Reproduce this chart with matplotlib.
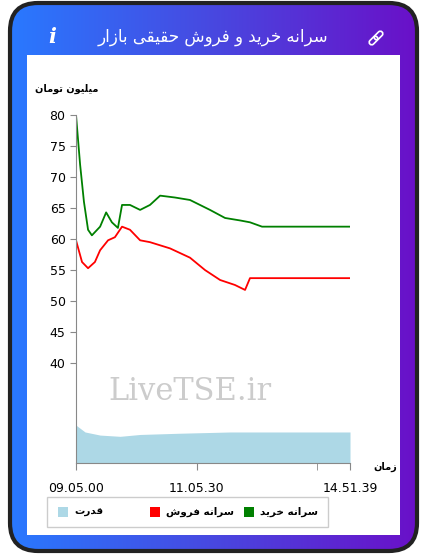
import matplotlib
matplotlib.use("Agg")
import matplotlib.pyplot as plt
import numpy as np
from matplotlib.patches import FancyBboxPatch, Rectangle
from matplotlib.colors import LinearSegmentedColormap
import matplotlib.transforms as mtransforms

# داده‌ها (موقعیت نمونه روی محور زمان 0..100)
buy_x = [0, 1.5, 2.9, 4.4, 5.8, 8.8, 11, 13.1, 15.3, 16.8, 19.7, 23.4, 27, 30.7, 36.1, 41.6, 48.9, 54.4, 59.9, 63.5, 67.9, 100]
buy_y = [80, 72, 66, 61.5, 60.6, 62, 64.3, 62.7, 61.8, 65.5, 65.5, 64.7, 65.5, 67, 66.7, 66.3, 64.7, 63.4, 63, 62.7, 62, 62]
sell_x = [0, 2.2, 4.4, 6.9, 8.8, 11.7, 14.2, 16.8, 19.7, 23.4, 27, 34.3, 41.6, 47.1, 52.6, 58, 61.7, 63.5, 67.9, 100]
sell_y = [59.8, 56.3, 55.3, 56.3, 58.2, 59.8, 60.3, 62, 61.5, 59.8, 59.5, 58.5, 57, 55, 53.4, 52.6, 51.8, 53.7, 53.7, 53.7]
power_x = [0, 3.3, 8.8, 16.1, 23.4, 38, 56.2, 100]
power_y = [30, 28.9, 28.4, 28.2, 28.5, 28.7, 28.9, 28.9]
tick_pos = [0, 44, 100]
tick_labels = ['09.05.00', '11.05.30', '14.51.39']

FORMS = {
    'ا': (0xFE8D, 0xFE8E, None, None), 'ب': (0xFE8F, 0xFE90, 0xFE91, 0xFE92),
    'ت': (0xFE95, 0xFE96, 0xFE97, 0xFE98), 'ح': (0xFEA1, 0xFEA2, 0xFEA3, 0xFEA4),
    'خ': (0xFEA5, 0xFEA6, 0xFEA7, 0xFEA8), 'د': (0xFEA9, 0xFEAA, None, None),
    'ر': (0xFEAD, 0xFEAE, None, None), 'ز': (0xFEAF, 0xFEB0, None, None),
    'س': (0xFEB1, 0xFEB2, 0xFEB3, 0xFEB4), 'ش': (0xFEB5, 0xFEB6, 0xFEB7, 0xFEB8),
    'ف': (0xFED1, 0xFED2, 0xFED3, 0xFED4), 'ق': (0xFED5, 0xFED6, 0xFED7, 0xFED8),
    'ل': (0xFEDD, 0xFEDE, 0xFEDF, 0xFEE0), 'م': (0xFEE1, 0xFEE2, 0xFEE3, 0xFEE4),
    'ن': (0xFEE5, 0xFEE6, 0xFEE7, 0xFEE8), 'ه': (0xFEE9, 0xFEEA, 0xFEEB, 0xFEEC),
    'و': (0xFEED, 0xFEEE, None, None), 'ی': (0xFEEF, 0xFEF0, 0xFEF3, 0xFEF4),
}


def fa(s):
    """شکل‌دهی ساده حروف فارسی و معکوس کردن برای نمایش راست به چپ."""
    out = []
    for i, c in enumerate(s):
        if c not in FORMS:
            out.append(c)
            continue
        prev = s[i - 1] if i > 0 else ' '
        nxt = s[i + 1] if i + 1 < len(s) else ' '
        jp = prev in FORMS and FORMS[prev][2] is not None
        jn = nxt in FORMS and FORMS[c][2] is not None
        iso, fin, ini, med = FORMS[c]
        if jp and jn:
            out.append(chr(med))
        elif jp:
            out.append(chr(fin))
        elif jn:
            out.append(chr(ini))
        else:
            out.append(chr(iso))
    return ''.join(out)[::-1]


plt.rcParams['font.family'] = ['DejaVu Sans']
W, H = 427, 559
fig = plt.figure(figsize=(W / 100, H / 100), dpi=100)

# کارت با حاشیه گرادیانی
bg = fig.add_axes([0, 0, 1, 1])
bg.set_xlim(0, W)
bg.set_ylim(H, 0)
bg.axis('off')
grad = np.linspace(0, 1, 256).reshape(1, -1)
cmap = LinearSegmentedColormap.from_list('g', ['#2979ff', '#4848e0', '#6a10c8'])
card = FancyBboxPatch((10, 3), 407, 548, boxstyle='round,pad=0,rounding_size=28',
                      facecolor='none', edgecolor='#222222', linewidth=3, zorder=3)
bg.add_patch(card)
im = bg.imshow(grad, cmap=cmap, extent=[10, 417, 551, 3], aspect='auto', zorder=1)
im.set_clip_path(card)
bg.add_patch(Rectangle((27, 55), 373, 480, facecolor='white', zorder=2))
bg.text(213, 37, fa('سرانه خرید و فروش حقیقی بازار'), color='white', fontsize=12,
        ha='center', va='center', zorder=4)
bg.text(52, 37, 'i', color='white', fontsize=15, fontweight='bold', style='italic',
        family='DejaVu Serif', ha='center', va='center', zorder=4)
# آیکون لینک
for dx, dy in [(-2.5, 2.5), (2.5, -2.5)]:
    link = FancyBboxPatch((376 + dx - 5, 38 + dy - 2.5), 10, 5,
                          boxstyle='round,pad=0,rounding_size=2.5', facecolor='none',
                          edgecolor='white', lw=1.2, zorder=4)
    link.set_transform(mtransforms.Affine2D().rotate_deg_around(376 + dx, 38 + dy, -45) + bg.transData)
    bg.add_patch(link)
bg.text(67, 89, fa('میلیون تومان'), fontsize=7, fontweight='bold', ha='center', va='center', zorder=4)
bg.text(385, 467, fa('زمان'), fontsize=7, fontweight='bold', ha='center', va='center', zorder=4)

# لجند
bg.add_patch(Rectangle((47, 497), 281, 30, facecolor='white', edgecolor='#cccccc', lw=1, zorder=3))
items = [('#add8e6', 'قدرت', 58), ('#ff0000', 'سرانه فروش', 150), ('#008000', 'سرانه خرید', 244)]
for col, name, rx in items:
    bg.add_patch(Rectangle((rx, 507), 10, 10, facecolor=col, zorder=4))
    bg.text(rx + 16, 512, fa(name), fontsize=7.5, fontweight='bold', ha='left', va='center', zorder=4)

bg.text(190, 392, 'LiveTSE.ir', family='DejaVu Serif', fontsize=22, color='#cccccc',
        ha='center', va='center', zorder=4)

ax = fig.add_axes([76 / W, 1 - 463 / H, 274 / W, 348 / H])
ax.patch.set_alpha(0)
ax.fill_between(power_x, 23.9, power_y, color='#add8e6', lw=0)
ax.plot(buy_x, buy_y, color='#008000', lw=1.3)
ax.plot(sell_x, sell_y, color='#ff0000', lw=1.3)
ax.set_xlim(0, 100)
ax.set_ylim(23.9, 80)
ax.set_yticks([40, 45, 50, 55, 60, 65, 70, 75, 80])
ax.set_xticks(tick_pos)
ax.set_xticklabels(tick_labels, fontsize=9)
ax.set_xticks([88], minor=True)
ax.tick_params(axis='y', labelsize=9, color='#888888', length=4)
ax.tick_params(axis='x', which='both', color='#888888', length=5, pad=9)
for s in ['top', 'right']:
    ax.spines[s].set_visible(False)
ax.spines['left'].set_color('#888888')
ax.spines['bottom'].set_color('#888888')

fig.savefig('out.png', dpi=100)
